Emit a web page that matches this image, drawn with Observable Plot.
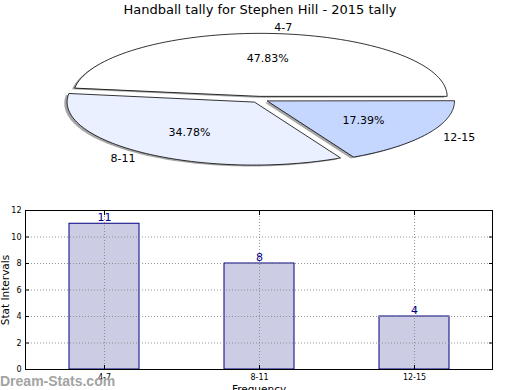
<!DOCTYPE html>
<html>
<head>
<meta charset="utf-8">
<script src="https://cdn.jsdelivr.net/npm/d3@7"></script>
<script src="https://cdn.jsdelivr.net/npm/@observablehq/plot@0.6"></script>
<style>
  html, body { margin: 0; padding: 0; background: #fff; }
  #wrap { position: relative; width: 520px; height: 390px; overflow: hidden; font-family: "DejaVu Sans", sans-serif; }
  #title { position: absolute; left: 0; top: 2px; width: 520px; text-align: center; font-size: 13px; color: #000; }
  #pie { position: absolute; left: 0; top: 20px; }
  #bars { position: absolute; left: 0; top: 200px; }
  #mark { position: absolute; left: 0; top: 374px; font-family: "Liberation Sans", Arial, sans-serif; font-size: 14px; line-height: 15px; font-weight: bold; color: #a3a3a3; white-space: nowrap; }
</style>
</head>
<body>
<div id="wrap">
  <div id="title">Handball tally for Stephen Hill - 2015 tally</div>
  <div id="pie"></div>
  <div id="bars"></div>
  <div id="mark">Dream-Stats.com</div>
</div>
<script>
const categories = ["4-7", "8-11", "12-15"];
const counts = [11, 8, 4];
const sliceColors = ["#ffffff", "#eaf0ff", "#c5d7ff"];
const yTicks = [0, 2, 4, 6, 8, 10, 12];

// ---- pie (matplotlib style: start at 0 rad, counterclockwise, exploded, shadow)
const explode = 0.05;
const total = d3.sum(counts);
const wedges = [];
let a0 = 0;
categories.forEach((c, i) => {
  const a1 = a0 + counts[i] / total * 2 * Math.PI;
  const mid = (a0 + a1) / 2;
  const ox = explode * Math.cos(mid), oy = explode * Math.sin(mid);
  const pts = [{slice: c, x: ox, y: oy}];
  const N = 80;
  for (let k = 0; k <= N; k++) {
    const t = a0 + (a1 - a0) * k / N;
    pts.push({slice: c, x: ox + Math.cos(t), y: oy + Math.sin(t)});
  }
  wedges.push({
    slice: c, color: sliceColors[i], pts,
    lx: ox + 1.1 * Math.cos(mid), ly: oy + 1.1 * Math.sin(mid),
    px: ox + 0.6 * Math.cos(mid), py: oy + 0.6 * Math.sin(mid),
    pct: (counts[i] / total * 100).toFixed(2) + "%"
  });
  a0 = a1;
});

const pieMarks = [];
wedges.forEach(w => {
  pieMarks.push(Plot.line(w.pts.map(p => ({...p, x: p.x - 0.015, y: p.y - 0.022})), {
    x: "x", y: "y", curve: "linear-closed", fill: "#4d4d4d", fillOpacity: 0.5, stroke: "none"
  }));
  pieMarks.push(Plot.line(w.pts, {
    x: "x", y: "y", curve: "linear-closed", fill: w.color, stroke: "#000", strokeWidth: 0.8
  }));
});
pieMarks.push(Plot.text(wedges, {x: "px", y: "py", text: "pct", fontSize: 11, fill: "#000"}));
pieMarks.push(Plot.text(wedges.filter(w => w.lx >= 0), {x: "lx", y: "ly", text: "slice", textAnchor: "start", fontSize: 11, fill: "#000"}));
pieMarks.push(Plot.text(wedges.filter(w => w.lx < 0), {x: "lx", y: "ly", text: "slice", textAnchor: "end", fontSize: 11, fill: "#000"}));

const pie = Plot.plot({
  width: 520, height: 170,
  marginLeft: 0, marginRight: 0, marginTop: 0, marginBottom: 0,
  x: {domain: [-259 / 187, 261 / 187], axis: null},
  y: {domain: [(79 - 170) / 63, 79 / 63], axis: null},
  style: {fontFamily: "DejaVu Sans", background: "transparent"},
  marks: pieMarks
});
document.getElementById("pie").append(pie);

// ---- bar chart
const barData = categories.map((c, i) => ({cat: c, count: counts[i]}));
const noText = () => "";
const bars = Plot.plot({
  width: 520, height: 190,
  marginLeft: 25, marginRight: 28, marginTop: 10, marginBottom: 21,
  style: {fontFamily: "DejaVu Sans", background: "transparent", overflow: "visible"},
  x: {domain: categories, paddingInner: 0.55, paddingOuter: 0.275},
  y: {domain: [0, 12]},
  marks: [
    Plot.barY(barData, {x: "cat", y: "count", fill: "#ccccE5", stroke: "#000080", strokeWidth: 1}),
    Plot.gridY({ticks: yTicks, stroke: "#888", strokeOpacity: 0.9, strokeDasharray: "1,2"}),
    Plot.gridX({stroke: "#888", strokeOpacity: 0.9, strokeDasharray: "1,2"}),
    Plot.text(barData, {x: "cat", y: "count", text: d => String(d.count), dy: -6, fill: "#00008b", fontSize: 11}),
    Plot.axisY({ticks: yTicks, tickSize: 0, tickPadding: 4, fontSize: 8, label: null}),
    Plot.axisY({ticks: yTicks, anchor: "left", tickSize: -4, tickFormat: noText, label: null}),
    Plot.axisY({ticks: yTicks, anchor: "right", tickSize: -4, tickFormat: noText, label: null}),
    Plot.axisX({tickSize: 0, tickPadding: 5, fontSize: 8, label: null}),
    Plot.axisX({anchor: "bottom", tickSize: -4, tickFormat: noText, label: null}),
    Plot.axisX({anchor: "top", tickSize: -4, tickFormat: noText, label: null}),
    Plot.frame({stroke: "#000"}),
    Plot.text(["Stat Intervals"], {frameAnchor: "left", textAnchor: "middle", dx: -20, rotate: -90, fontSize: 10.5, fill: "#000"}),
    Plot.text(["Frequency"], {frameAnchor: "bottom", lineAnchor: "middle", dy: 20, fontSize: 10.5, fill: "#000"})
  ]
});
document.getElementById("bars").append(bars);
</script>
</body>
</html>
